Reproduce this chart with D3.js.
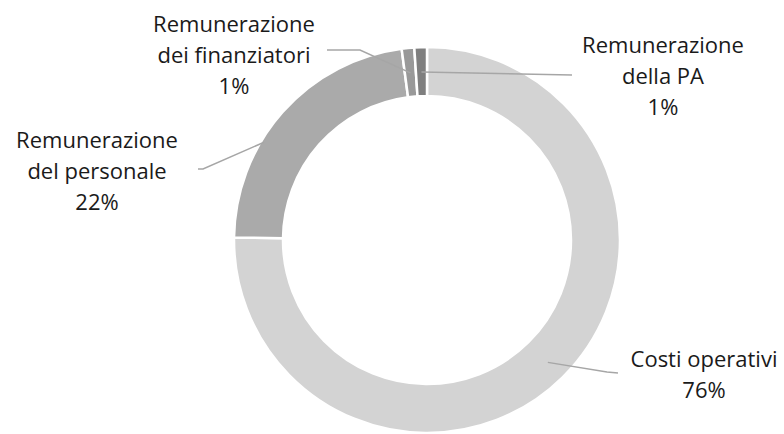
<!DOCTYPE html>
<head>
    <meta charset="utf-8">
    <script src="https://d3js.org/d3.v7.min.js"></script>
    <style>
        body {
            margin: 0;
            background: #fff;
            font-family: "Open Sans", sans-serif;
        }

        g.slice path {
            stroke: #fff;
            stroke-width: 2.5;
        }

        g.label text {
            font-size: 22px;
            fill: #1a1a1a;
        }

        path.leader {
            fill: none;
            stroke: #a6a6a6;
            stroke-width: 1.5;
        }
    </style>
</head>

<body>
    <script>
        // values, in drawing order (clockwise from 12 o'clock)
        var categories = ["Costi operativi", "Remunerazione del personale", "Remunerazione dei finanziatori", "Remunerazione della PA"];
        var values = [75.2, 22.7, 1.05, 1.05];
        var percentLabels = ["76%", "22%", "1%", "1%"];
        var labelLines = [
            ["Costi operativi"],
            ["Remunerazione", "del personale"],
            ["Remunerazione", "dei finanziatori"],
            ["Remunerazione", "della PA"]
        ];
        var colors = ["#d3d3d3", "#aaaaaa", "#999999", "#7f7f7f"];

        var width = 784,
            height = 434,
            cx = 427,
            cy = 240,
            outerR = 193,
            innerR = 144;

        // label placement: text centre, first baseline, leader line (label side -> elbow),
        // and where along the slice the line touches (t = fraction of slice, r = radius)
        var layout = [
            { x: 704, y: 367, from: [618, 373], elbow: [607, 372], t: 0.5, r: 172 },
            { x: 97, y: 148, from: [198, 169], elbow: [203, 169], t: 0.37, r: 190 },
            { x: 234, y: 32, from: [327, 50], elbow: [360, 50], t: 0.5, r: 168 },
            { x: 663, y: 53, from: [572, 75], elbow: [572, 75], t: 0.5, r: 168 }
        ];
        var lineHeight = 31;

        var svg = d3.select("body").append("svg")
            .attr("width", width)
            .attr("height", height);

        var pie = d3.pie().sort(null).value(function(d) { return d; });
        var arc = d3.arc().innerRadius(innerR).outerRadius(outerR);
        var arcs = pie(values);

        var g = svg.append("g").attr("transform", "translate(" + cx + "," + cy + ")");

        g.selectAll("g.slice")
            .data(arcs)
            .enter().append("g")
            .attr("class", "slice")
            .append("path")
            .attr("d", arc)
            .style("fill", function(d, i) { return colors[i]; });

        // leader lines
        svg.selectAll("path.leader")
            .data(arcs)
            .enter().append("path")
            .attr("class", "leader")
            .attr("d", function(d, i) {
                var l = layout[i];
                var a = d.startAngle + (d.endAngle - d.startAngle) * l.t;
                var end = [cx + l.r * Math.sin(a), cy - l.r * Math.cos(a)];
                return d3.line()([l.from, l.elbow, end]);
            });

        var labels = svg.selectAll("g.label")
            .data(arcs)
            .enter().append("g")
            .attr("class", "label");

        labels.append("text")
            .attr("text-anchor", "middle")
            .each(function(d, i) {
                var l = layout[i];
                var lines = labelLines[i].concat([percentLabels[i]]);
                var t = d3.select(this);
                lines.forEach(function(s, k) {
                    t.append("tspan")
                        .attr("x", l.x)
                        .attr("y", l.y + k * lineHeight)
                        .text(s);
                });
            });
    </script>
</body>
